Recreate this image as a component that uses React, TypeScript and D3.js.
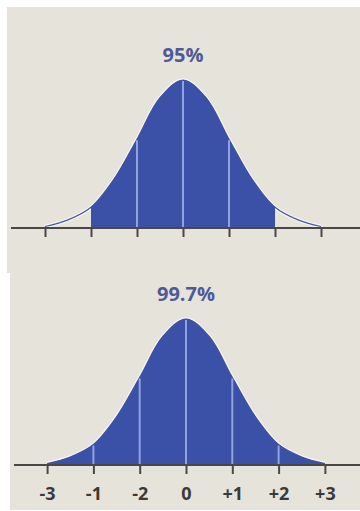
import React, { useEffect, useRef } from 'react';
import * as d3 from 'd3';

// sigma positions and curve heights (1 = peak)
const sigmaSteps = [-3, -2.5, -2, -1.5, -1, -0.5, 0, 0.5, 1, 1.5, 2, 2.5, 3];
const curveHeights = [0.01, 0.055, 0.14, 0.33, 0.6, 0.88, 1, 0.88, 0.6, 0.33, 0.14, 0.055, 0.01];

const tickValues = [-3, -2, -1, 0, 1, 2, 3];
const bottomTickLabels = ['-3', '-1', '-2', '0', '+1', '+2', '+3'];

const topLabel = '95%';
const topRange = [-2, 2];
const topDividers = [-1, 0, 1];

const bottomLabel = '99.7%';
const bottomRange = [-3, 3];
const bottomDividers = [-2, -1, 0, 1, 2];

const BG = '#e6e3da';
const FILL = '#3b51a7';
const DIVIDER = '#8ea3e0';
const AXIS = '#4a4845';

type PanelProps = {
  id: string;
  x0: number;
  y0: number;
  w: number;
  h: number;
  cx: number;
  sigmaPx: number;
  baseY: number;
  peakY: number;
  label: string;
  labelY: number;
  range: number[];
  dividers: number[];
  tickLabels: string[] | null;
};

const Panel = (p: PanelProps) => {
  const gRef = useRef<SVGGElement>(null);

  useEffect(() => {
    const g = d3.select(gRef.current);
    g.selectAll('*').remove();

    const x = d3.scaleLinear()
      .domain([-3, 3])
      .range([p.cx - 3 * p.sigmaPx, p.cx + 3 * p.sigmaPx]);
    const y = d3.scaleLinear()
      .domain([0, 1])
      .range([p.baseY, p.peakY]);

    const pts: [number, number][] = sigmaSteps.map((s, i) => [s, curveHeights[i]]);
    const heightAt = (s: number) => curveHeights[sigmaSteps.indexOf(s)];

    g.append('rect')
      .attr('x', p.x0)
      .attr('y', p.y0)
      .attr('width', p.w)
      .attr('height', p.h)
      .attr('fill', BG);

    const line = d3.line<[number, number]>()
      .x(d => x(d[0]))
      .y(d => y(d[1]))
      .curve(d3.curveCatmullRom);

    const area = d3.area<[number, number]>()
      .x(d => x(d[0]))
      .y0(p.baseY)
      .y1(d => y(d[1]))
      .curve(d3.curveCatmullRom);

    // light halo under the curve
    g.append('path')
      .attr('d', line(pts))
      .attr('fill', 'none')
      .attr('stroke', '#f6f6fb')
      .attr('stroke-width', 3.5);

    const clipId = `clip-${p.id}`;
    g.append('clipPath')
      .attr('id', clipId)
      .append('rect')
      .attr('x', x(p.range[0]))
      .attr('y', 0)
      .attr('width', x(p.range[1]) - x(p.range[0]))
      .attr('height', p.baseY + 2);

    g.append('path')
      .attr('d', area(pts))
      .attr('fill', FILL)
      .attr('clip-path', `url(#${clipId})`);

    // thin outline on the tails
    g.append('path')
      .attr('d', line(pts))
      .attr('fill', 'none')
      .attr('stroke', '#4b5592')
      .attr('stroke-width', 1.2);

    g.append('path')
      .attr('d', area(pts))
      .attr('fill', FILL)
      .attr('clip-path', `url(#${clipId})`);

    g.selectAll('.divider')
      .data(p.dividers)
      .enter()
      .append('line')
      .attr('x1', d => x(d))
      .attr('x2', d => x(d))
      .attr('y1', p.baseY)
      .attr('y2', d => y(heightAt(d)) + 1)
      .attr('stroke', DIVIDER)
      .attr('stroke-width', 2);

    // axis baseline
    g.append('line')
      .attr('x1', p.x0 + 4)
      .attr('x2', 360)
      .attr('y1', p.baseY)
      .attr('y2', p.baseY)
      .attr('stroke', AXIS)
      .attr('stroke-width', 2);

    const axis = d3.axisBottom(x)
      .tickValues(tickValues)
      .tickSize(9)
      .tickSizeOuter(0)
      .tickPadding(13)
      .tickFormat((d, i) => (p.tickLabels ? p.tickLabels[i] : ''));

    const ax = g.append('g')
      .attr('transform', `translate(0,${p.baseY})`)
      .call(axis);
    ax.select('.domain').remove();
    ax.selectAll('.tick line')
      .attr('stroke', AXIS)
      .attr('stroke-width', 2);
    ax.selectAll('.tick text')
      .attr('fill', '#3a3a3a')
      .style('font-family', '"Open Sans", sans-serif')
      .style('font-weight', '700')
      .style('font-size', '18px');

    g.append('text')
      .attr('x', p.cx)
      .attr('y', p.labelY)
      .attr('text-anchor', 'middle')
      .attr('fill', '#4e5a98')
      .style('font-family', '"Open Sans", sans-serif')
      .style('font-weight', '700')
      .style('font-size', '20px')
      .text(p.label);
  }, [p]);

  return <g ref={gRef}></g>;
};

export default function App() {
  return (
    <svg
      width={360}
      height={511}
      style={{ position: 'absolute', left: 0, top: 0, background: '#ffffff' }}
    >
      <Panel
        id="top"
        x0={7}
        y0={7}
        w={353}
        h={266}
        cx={183}
        sigmaPx={46}
        baseY={228}
        peakY={80}
        label={topLabel}
        labelY={62}
        range={topRange}
        dividers={topDividers}
        tickLabels={null}
      />
      <Panel
        id="bottom"
        x0={10}
        y0={273}
        w={350}
        h={237}
        cx={186}
        sigmaPx={46.3}
        baseY={465}
        peakY={319}
        label={bottomLabel}
        labelY={301}
        range={bottomRange}
        dividers={bottomDividers}
        tickLabels={bottomTickLabels}
      />
    </svg>
  );
}
